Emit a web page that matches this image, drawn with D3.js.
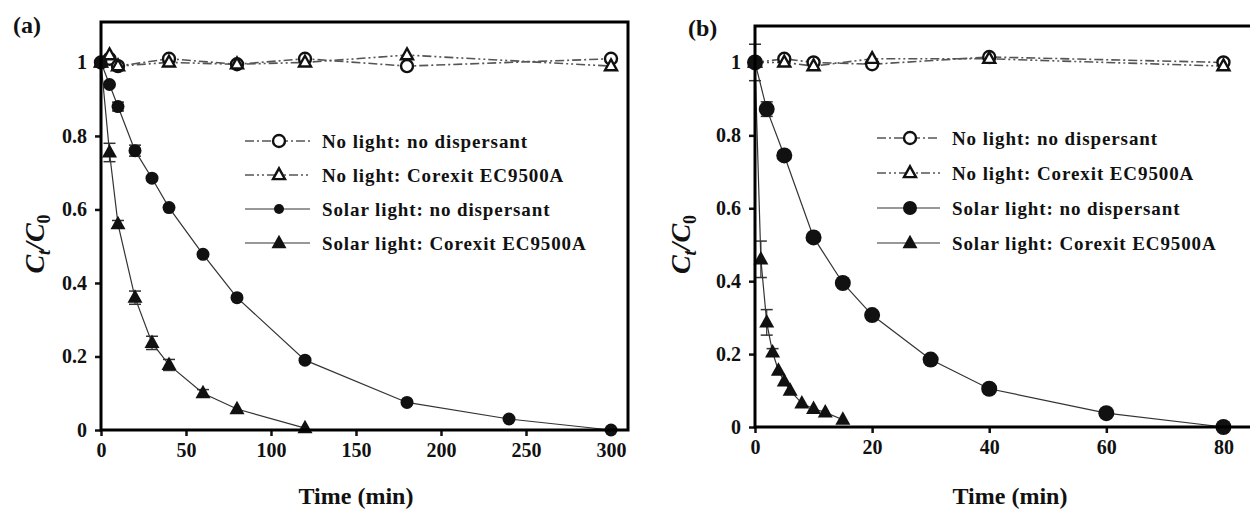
<!DOCTYPE html>
<html>
<head>
<meta charset="utf-8">
<script src="https://cdn.jsdelivr.net/npm/d3@7"></script>
<style>
  html, body { margin: 0; padding: 0; background: #fff; }
  svg text { font-family: "Liberation Serif", "Times New Roman", serif; font-weight: bold; fill: #111; }
</style>
</head>
<body>
<svg id="chart" width="1250" height="510"></svg>
<script>
// ---- Panel (a): 300 min run ----
const aNoLightTime = [0, 5, 10, 40, 80, 120, 180, 300];
const aNoLightNoDisp = [1.0, 1.01, 0.99, 1.01, 0.995, 1.01, 0.99, 1.01];
const aNoLightCorexit = [1.0, 1.02, 0.99, 1.0, 0.995, 1.0, 1.02, 0.99];

const aSolarTime = [0, 5, 10, 20, 30, 40, 60, 80, 120, 180, 240, 300];
const aSolarNoDisp = [1.0, 0.94, 0.88, 0.76, 0.685, 0.605, 0.478, 0.36, 0.19, 0.075, 0.03, 0.0];
const aSolarNoDispErr = [0, 0, 0.012, 0.015, 0, 0, 0, 0, 0, 0, 0, 0];

const aSolarCxTime = [0, 5, 10, 20, 30, 40, 60, 80, 120];
const aSolarCorexit = [1.0, 0.755, 0.56, 0.36, 0.237, 0.177, 0.1, 0.057, 0.005];
const aSolarCorexitErr = [0, 0.025, 0.01, 0.018, 0.018, 0.015, 0.01, 0, 0];

const aXTicks = [0, 50, 100, 150, 200, 250, 300];

// ---- Panel (b): 80 min run ----
const bNoLightTime = [0, 5, 10, 20, 40, 80];
const bNoLightNoDisp = [1.0, 1.01, 1.0, 0.995, 1.015, 1.0];
const bNoLightCorexit = [1.0, 1.0, 0.99, 1.01, 1.01, 0.99];

const bSolarTime = [0, 2, 5, 10, 15, 20, 30, 40, 60, 80];
const bSolarNoDisp = [1.0, 0.872, 0.745, 0.52, 0.395, 0.307, 0.185, 0.105, 0.038, 0.0];
const bSolarNoDispErr = [0, 0.02, 0.01, 0, 0, 0, 0, 0, 0, 0];

const bSolarCxTime = [0, 1, 2, 3, 4, 5, 6, 8, 10, 12, 15];
const bSolarCorexit = [1.0, 0.46, 0.287, 0.205, 0.155, 0.125, 0.1, 0.065, 0.05, 0.04, 0.02];
const bSolarCorexitErr = [0.05, 0.05, 0.035, 0.01, 0, 0, 0, 0, 0, 0, 0];

const bXTicks = [0, 20, 40, 60, 80];

const yTicks = [0, 0.2, 0.4, 0.6, 0.8, 1];
const yTickLabels = ["0", "0.2", "0.4", "0.6", "0.8", "1"];

const legendLabels = [
  "No light: no dispersant",
  "No light: Corexit EC9500A",
  "Solar light: no dispersant",
  "Solar light: Corexit EC9500A"
];

const svg = d3.select("#chart");

const panels = [
  {
    tag: "(a)", tagX: 13, tagY: 33,
    xDomain: [0, 310], xRange: [101, 628],
    yDomain: [0, 1.11], yRange: [430, 22],
    xTicks: aXTicks,
    series: [
      { t: aNoLightTime, v: aNoLightNoDisp, mark: "openCircle", dash: "9,3,2,3" },
      { t: aNoLightTime, v: aNoLightCorexit, mark: "openTriangle", dash: "9,3,2,3,2,3" },
      { t: aSolarTime, v: aSolarNoDisp, err: aSolarNoDispErr, mark: "circle", r: 6.5 },
      { t: aSolarCxTime, v: aSolarCorexit, err: aSolarCorexitErr, mark: "triangle", s: 15 }
    ],
    legend: { x1: 245, x2: 310, mx: 279, tx: 322, y0: 141, dy: 34 },
    yLabelX: 44, xLabelX: 356
  },
  {
    tag: "(b)", tagX: 688, tagY: 36,
    xDomain: [0, 90], xRange: [755, 1282],
    yDomain: [0, 1.1], yRange: [427, 26],
    xTicks: bXTicks,
    series: [
      { t: bNoLightTime, v: bNoLightNoDisp, mark: "openCircle", dash: "9,3,2,3" },
      { t: bNoLightTime, v: bNoLightCorexit, mark: "openTriangle", dash: "9,3,2,3,2,3" },
      { t: bSolarTime, v: bSolarNoDisp, err: bSolarNoDispErr, mark: "circle", r: 8 },
      { t: bSolarCxTime, v: bSolarCorexit, err: bSolarCorexitErr, mark: "triangle", s: 15 }
    ],
    legend: { x1: 877, x2: 940, mx: 910, tx: 952, y0: 138, dy: 35 },
    yLabelX: 690, xLabelX: 1010
  }
];

function drawMarker(g, type, x, y, opt) {
  if (type === "openCircle") {
    g.append("circle").attr("cx", x).attr("cy", y).attr("r", 6)
      .attr("fill", "#fff").attr("stroke", "#111").attr("stroke-width", 2.4);
  } else if (type === "openTriangle") {
    const s = 12, h = s * 0.9;
    g.append("path")
      .attr("d", `M${x},${y - h * 0.62}L${x + s / 2},${y + h * 0.38}L${x - s / 2},${y + h * 0.38}Z`)
      .attr("fill", "#fff").attr("stroke", "#111").attr("stroke-width", 2.4);
  } else if (type === "circle") {
    g.append("circle").attr("cx", x).attr("cy", y).attr("r", opt.r || 6).attr("fill", "#111");
  } else if (type === "triangle") {
    const s = opt.s || 14, h = s * 0.9;
    g.append("path")
      .attr("d", `M${x},${y - h * 0.62}L${x + s / 2},${y + h * 0.38}L${x - s / 2},${y + h * 0.38}Z`)
      .attr("fill", "#111");
  }
}

panels.forEach(p => {
  const x = d3.scaleLinear().domain(p.xDomain).range(p.xRange);
  const y = d3.scaleLinear().domain(p.yDomain).range(p.yRange);
  const g = svg.append("g");

  // axes with outward ticks
  g.append("g").attr("transform", `translate(0,${p.yRange[0]})`)
    .call(d3.axisBottom(x).tickValues(p.xTicks).tickSize(6).tickSizeOuter(0).tickPadding(7).tickFormat(d3.format("d")))
    .call(a => a.select(".domain").remove())
    .call(a => a.selectAll("line").attr("stroke", "#111").attr("stroke-width", 2.5))
    .call(a => a.selectAll("text").attr("font-size", 20).attr("fill", "#111"));

  g.append("g").attr("transform", `translate(${p.xRange[0]},0)`)
    .call(d3.axisLeft(y).tickValues(yTicks).tickSize(6).tickSizeOuter(0).tickPadding(8)
      .tickFormat((d, i) => yTickLabels[i]))
    .call(a => a.select(".domain").remove())
    .call(a => a.selectAll("line").attr("stroke", "#111").attr("stroke-width", 2.5))
    .call(a => a.selectAll("text").attr("font-size", 20).attr("fill", "#111"));

  // data (clipped to plot area)
  const clipId = "clip" + p.tag.replace(/[()]/g, "");
  svg.append("clipPath").attr("id", clipId).append("rect")
    .attr("x", p.xRange[0] - 10).attr("y", p.yRange[1])
    .attr("width", p.xRange[1] - p.xRange[0] + 10).attr("height", p.yRange[0] - p.yRange[1] + 10);
  const dg = g.append("g").attr("clip-path", `url(#${clipId})`);

  const line = d3.line().x(d => x(d[0])).y(d => y(d[1]));
  p.series.forEach(s => {
    const pts = s.t.map((t, i) => [t, s.v[i]]);
    dg.append("path").attr("d", line(pts)).attr("fill", "none")
      .attr("stroke", s.dash ? "#555" : "#333")
      .attr("stroke-width", s.dash ? 1.6 : 1.2)
      .attr("stroke-dasharray", s.dash || null);
  });
  // error bars
  p.series.forEach(s => {
    if (!s.err) return;
    s.t.forEach((t, i) => {
      const e = s.err[i];
      if (!e) return;
      const cx = x(t), y1 = y(s.v[i] + e), y2 = y(s.v[i] - e);
      dg.append("line").attr("x1", cx).attr("x2", cx).attr("y1", y1).attr("y2", y2)
        .attr("stroke", "#333").attr("stroke-width", 1.2);
      [y1, y2].forEach(yy => dg.append("line").attr("x1", cx - 6).attr("x2", cx + 6)
        .attr("y1", yy).attr("y2", yy).attr("stroke", "#333").attr("stroke-width", 1.5));
    });
  });
  p.series.forEach(s => {
    s.t.forEach((t, i) => drawMarker(dg, s.mark, x(t), y(s.v[i]), s));
  });

  // frame
  g.append("rect")
    .attr("x", p.xRange[0]).attr("y", p.yRange[1])
    .attr("width", p.xRange[1] - p.xRange[0]).attr("height", p.yRange[0] - p.yRange[1])
    .attr("fill", "none").attr("stroke", "#000").attr("stroke-width", 3);

  // legend
  const L = p.legend;
  p.series.forEach((s, i) => {
    const ly = L.y0 + i * L.dy;
    g.append("line").attr("x1", L.x1).attr("x2", L.x2).attr("y1", ly).attr("y2", ly)
      .attr("stroke", s.dash ? "#555" : "#333").attr("stroke-width", s.dash ? 1.6 : 1.2)
      .attr("stroke-dasharray", s.dash || null);
    drawMarker(g, s.mark, L.mx, ly, s.mark === "circle" ? { r: p.tag === "(a)" ? 5 : 7 } : s);
    g.append("text").attr("x", L.tx).attr("y", ly).attr("dy", "0.35em")
      .attr("font-size", 19).attr("letter-spacing", 0.9).text(legendLabels[i]);
  });

  // panel tag
  g.append("text").attr("x", p.tagX).attr("y", p.tagY).attr("font-size", 24).text(p.tag);

  // axis titles
  g.append("text").attr("x", p.xLabelX).attr("y", 504).attr("text-anchor", "middle")
    .attr("font-size", 24).text("Time (min)");

  const yl = g.append("text")
    .attr("transform", `translate(${p.yLabelX},${(p.yRange[0] + p.yRange[1]) / 2 + 18}) rotate(-90)`)
    .attr("text-anchor", "middle").attr("font-size", 28).attr("font-style", "italic");
  yl.append("tspan").text("C");
  yl.append("tspan").attr("font-size", 18).attr("dy", 6).text("t");
  yl.append("tspan").attr("dy", -6).text("/C");
  yl.append("tspan").attr("font-size", 18).attr("dy", 6).attr("font-style", "normal").text("0");
});
</script>
</body>
</html>
